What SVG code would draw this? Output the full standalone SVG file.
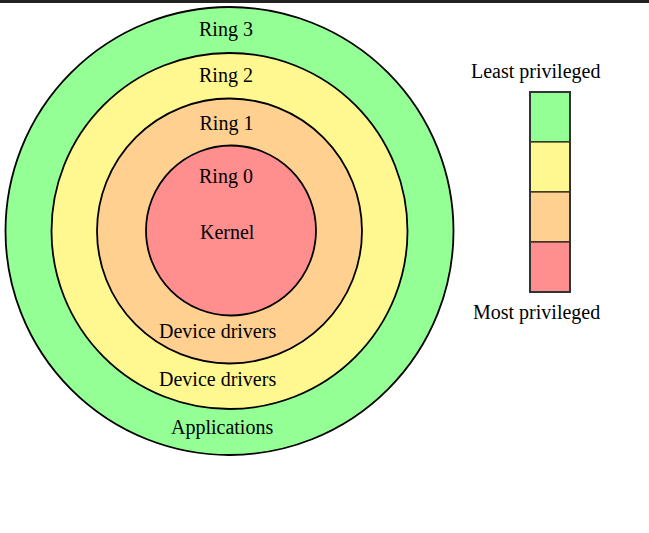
<svg xmlns="http://www.w3.org/2000/svg" width="649" height="533" viewBox="0 0 649 533">
<style>
text{font-family:"Liberation Serif","Times New Roman",serif;font-size:20px;fill:#000}
.ring{stroke:#000;stroke-width:1.8}
.g{fill:#94FF94}.y{fill:#FFF891}.o{fill:#FFD090}.r{fill:#FF8F8F}
.seg{stroke:#000;stroke-width:1}
</style>
<rect x="0" y="0" width="649" height="533" fill="#fff"/>
<rect x="0" y="0" width="649" height="3" fill="#222"/>
<g id="ring3"><circle class="ring g" cx="229.5" cy="231" r="224"/><text x="199" y="36">Ring 3</text><text x="171" y="433.5">Applications</text></g>
<g id="ring2"><circle class="ring y" cx="229.5" cy="231" r="178"/><text x="199" y="82">Ring 2</text><text x="159" y="386">Device drivers</text></g>
<g id="ring1"><circle class="ring o" cx="229.5" cy="231" r="132.5"/><text x="199.5" y="130">Ring 1</text><text x="159" y="337.5">Device drivers</text></g>
<g id="ring0"><circle class="ring r" cx="231" cy="230.5" r="85"/><text x="199" y="182.5">Ring 0</text><text x="200" y="239">Kernel</text></g>
<g id="legend">
<text x="471" y="78">Least privileged</text>
<rect class="seg g" x="530" y="92" width="40" height="50"/>
<rect class="seg y" x="530" y="142" width="40" height="50"/>
<rect class="seg o" x="530" y="192" width="40" height="50"/>
<rect class="seg r" x="530" y="242" width="40" height="50"/>
<rect x="530" y="92" width="40" height="200" fill="none" stroke="#333" stroke-width="2"/>
<text x="473" y="318.5">Most privileged</text>
</g>
<g id="connectors"/>
</svg>
